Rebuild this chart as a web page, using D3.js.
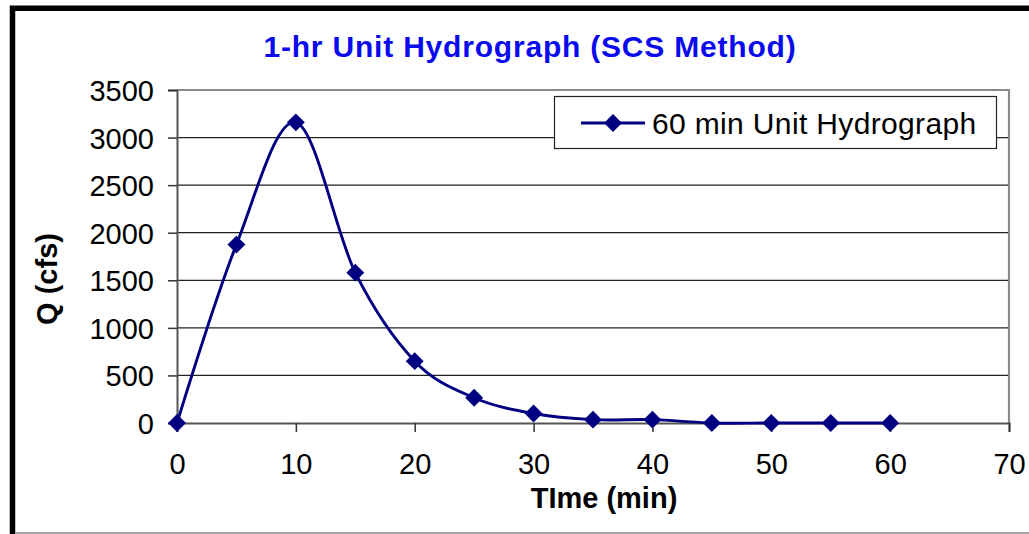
<!DOCTYPE html>
<html>
<head>
<meta charset="utf-8">
<script src="https://cdn.jsdelivr.net/npm/d3@7/dist/d3.min.js"></script>
<style>
  body { margin: 0; background: #fff; }
  text { font-family: Arial, "Liberation Sans", sans-serif; }
</style>
</head>
<body>
<div id="chart"></div>
<script>
let width = 1029;
let height = 534;

// data
let times = [0, 5, 10, 15, 20, 25, 30, 35, 40, 45, 50, 55, 60];
let flows = [0, 1875, 3160, 1580, 650, 265, 100, 35, 35, 0, 0, 0, 0];
let xTicks = [0, 10, 20, 30, 40, 50, 60, 70];
let yTicks = [0, 500, 1000, 1500, 2000, 2500, 3000, 3500];
let seriesName = "60 min Unit Hydrograph";

let margin = { left: 177, right: 1009, top: 90, bottom: 423 };
let lineColor = "#000080";

let svg = d3.select("#chart")
    .append("svg")
    .attr("width", width)
    .attr("height", height);

let x = d3.scaleLinear().domain([0, 70]).range([margin.left, margin.right]);
let y = d3.scaleLinear().domain([0, 3500]).range([margin.bottom, margin.top]);

// outer chart frame (cut off on the right like the reference)
svg.append("rect")
    .attr("x", 12.5)
    .attr("y", 8.25)
    .attr("width", 1100)
    .attr("height", 600)
    .attr("fill", "none")
    .attr("stroke", "#000")
    .attr("stroke-width", 5.5);
svg.append("line")
    .attr("x1", 15).attr("x2", width)
    .attr("y1", 533).attr("y2", 533)
    .attr("stroke", "#888").attr("stroke-width", 1.5);

// gridlines
svg.append("g")
    .selectAll("line")
    .data(yTicks.filter(d => d > 0 && d < 3500))
    .join("line")
    .attr("x1", margin.left).attr("x2", margin.right)
    .attr("y1", d => y(d)).attr("y2", d => y(d))
    .attr("stroke", "#222")
    .attr("stroke-width", 1.3);

// plot area border (top + right)
svg.append("path")
    .attr("d", `M${margin.left},${y(3500)}H${margin.right}V${y(0)}`)
    .attr("fill", "none")
    .attr("stroke", "#8a8a8a")
    .attr("stroke-width", 2.2);

// axes
let yAxis = svg.append("g")
    .attr("transform", `translate(${margin.left},0)`)
    .call(d3.axisLeft(y).tickValues(yTicks).tickSize(9).tickPadding(14).tickFormat(d3.format("d")));
let xAxis = svg.append("g")
    .attr("transform", `translate(0,${margin.bottom})`)
    .call(d3.axisBottom(x).tickValues(xTicks).tickSize(9).tickPadding(21).tickFormat(d3.format("d")));

[yAxis, xAxis].forEach(function (ax) {
    ax.select(".domain").attr("stroke", "#555").attr("stroke-width", 2);
    ax.selectAll(".tick line").attr("stroke", "#333").attr("stroke-width", 1.5);
    ax.selectAll(".tick text")
        .attr("fill", "#000")
        .style("font-size", "29px")
        .style("font-family", "Arial, 'Liberation Sans', sans-serif");
});
yAxis.selectAll(".tick text").attr("dy", "0.36em");

// series line
let line = d3.line()
    .x((d, i) => x(times[i]))
    .y(d => y(d))
    .curve(d3.curveCardinal.tension(0));

svg.append("path")
    .datum(flows)
    .attr("d", line)
    .attr("fill", "none")
    .attr("stroke", lineColor)
    .attr("stroke-width", 2.9);

let diamond = d3.symbol().type(d3.symbolSquare).size(160);

svg.append("g")
    .selectAll("path")
    .data(flows)
    .join("path")
    .attr("d", diamond)
    .attr("transform", (d, i) => `translate(${x(times[i])},${y(d)}) rotate(45)`)
    .attr("fill", lineColor);

// title and axis titles
svg.append("text")
    .attr("x", 530)
    .attr("y", 57)
    .attr("text-anchor", "middle")
    .attr("fill", "#0a0aee")
    .style("font-size", "30px")
    .style("font-weight", "bold")
    .style("letter-spacing", "0.8px")
    .text("1-hr Unit Hydrograph (SCS Method)");

svg.append("text")
    .attr("transform", "translate(57,279) rotate(-90)")
    .attr("text-anchor", "middle")
    .style("font-size", "29px")
    .style("font-weight", "bold")
    .text("Q (cfs)");

svg.append("text")
    .attr("x", 604)
    .attr("y", 508)
    .attr("text-anchor", "middle")
    .style("font-size", "29px")
    .style("font-weight", "bold")
    .text("TIme (min)");

// legend
let legend = svg.append("g");
legend.append("rect")
    .attr("x", 554.5).attr("y", 96.5)
    .attr("width", 442).attr("height", 52)
    .attr("fill", "#fff")
    .attr("stroke", "#222")
    .attr("stroke-width", 1.2);
legend.append("line")
    .attr("x1", 581).attr("x2", 645)
    .attr("y1", 123).attr("y2", 123)
    .attr("stroke", lineColor)
    .attr("stroke-width", 2.9);
legend.append("path")
    .attr("d", diamond)
    .attr("transform", "translate(613,123) rotate(45)")
    .attr("fill", lineColor);
legend.append("text")
    .attr("x", 652)
    .attr("y", 123)
    .attr("dy", "0.36em")
    .style("font-size", "30px")
    .style("letter-spacing", "0.35px")
    .text(seriesName);
</script>
</body>
</html>
